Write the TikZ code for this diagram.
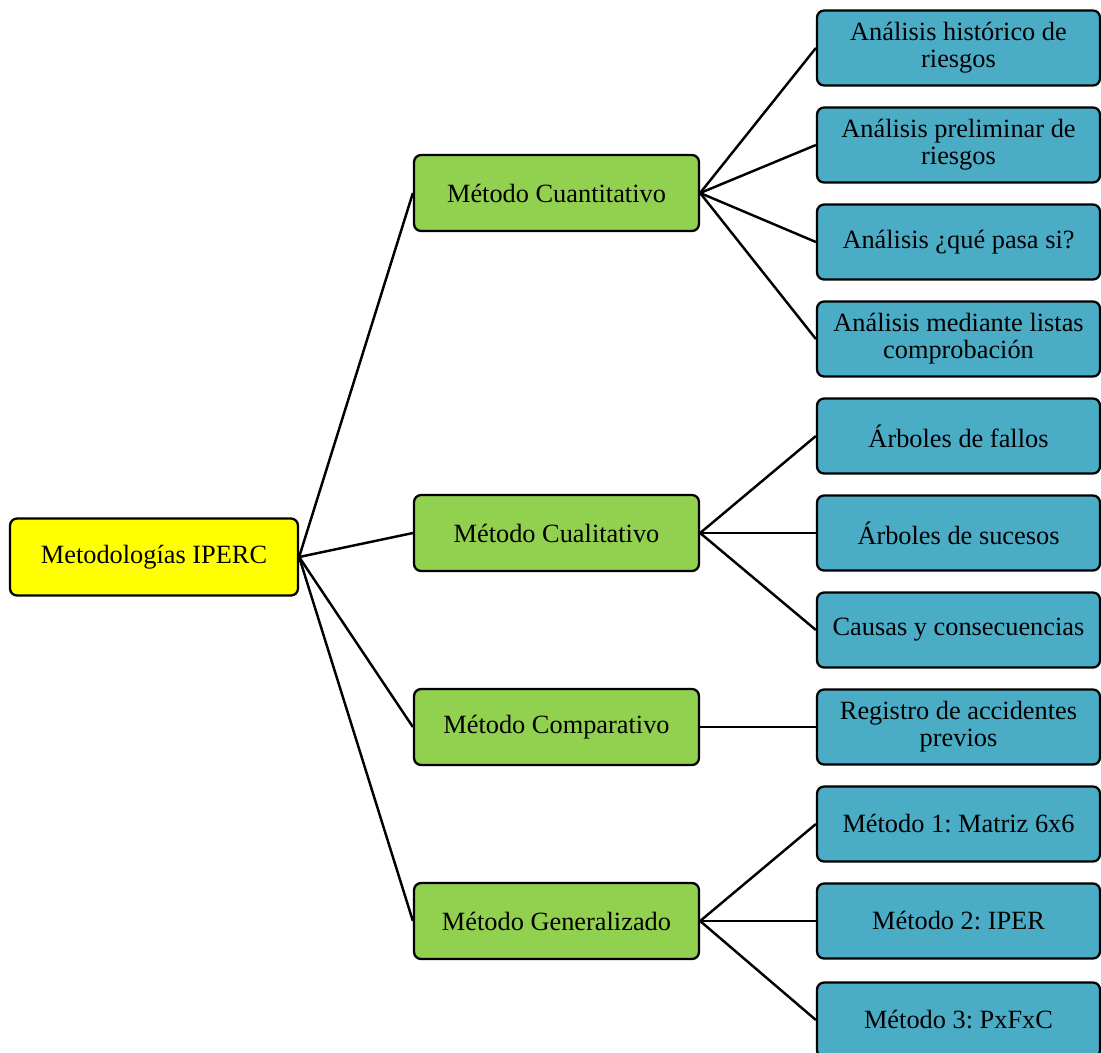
\documentclass[tikz,border=0pt]{standalone}
\usepackage{fontspec}
\setmainfont{Liberation Serif}
\frenchspacing
\definecolor{rootyellow}{HTML}{FFFF00}
\definecolor{methodgreen}{HTML}{92D050}
\definecolor{leafteal}{HTML}{4BACC6}
\begin{document}
\begin{tikzpicture}
[x=0.02cm,y=-0.02cm,
  rootdecorate/.style={shape=rectangle,rounded corners=4pt,draw,line width=1.3pt,fill=rootyellow,
    minimum width=5.76cm,minimum height=1.54cm,align=center,font=\fontsize{15}{15.5}\selectfont},%
  methoddecorate/.style={rootdecorate,fill=methodgreen,minimum width=5.7cm,minimum height=1.52cm},%
  leafdecorate/.style={rootdecorate,fill=leafteal,minimum width=5.66cm,minimum height=1.5cm},%
  linedecorate/.style={-,line width=1.4pt}]
\useasboundingbox (0,0) rectangle (1101,1052);
\fill[white] (0,0) rectangle (1101,1052);
%%% root
\node (iperc) at (154,557) [rootdecorate] {Metodologías IPERC};
%%% methods
\node (cuant) at (556.5,193) [methoddecorate] {Método Cuantitativo};
\node (cual) at (556.5,533) [methoddecorate] {Método Cualitativo};
\node (comp) at (556.5,727) [methoddecorate] {Método Comparativo};
\node (gen) at (556.5,921) [methoddecorate] {Método Generalizado};
%%% leaves
\node (l1) at (958.5,48) [leafdecorate] {Análisis histórico de\\riesgos};
\node (l2) at (958.5,145) [leafdecorate] {Análisis preliminar de\\riesgos};
\node (l3) at (958.5,242) [leafdecorate] {Análisis ¿qué pasa si?};
\node (l4) at (958.5,339) [leafdecorate] {Análisis mediante listas\\comprobación};
\node (l5) at (958.5,436) [leafdecorate] {Árboles de fallos};
\node (l6) at (958.5,533) [leafdecorate] {Árboles de sucesos};
\node (l7) at (958.5,630) [leafdecorate] {Causas y consecuencias};
\node (l8) at (958.5,727) [leafdecorate] {Registro de accidentes\\previos};
\node (l9) at (958.5,824) [leafdecorate] {Método 1: Matriz 6x6};
\node (l10) at (958.5,921) [leafdecorate] {Método 2: IPER};
\node (l11) at (958.5,1020) [leafdecorate] {Método 3: PxFxC};
% edges or lines
\path
(iperc.east) edge[linedecorate] (cuant.west)
(iperc.east) edge[linedecorate] (cual.west)
(iperc.east) edge[linedecorate] (comp.west)
(iperc.east) edge[linedecorate] (gen.west)
(cuant.east) edge[linedecorate] (l1.west)
(cuant.east) edge[linedecorate] (l2.west)
(cuant.east) edge[linedecorate] (l3.west)
(cuant.east) edge[linedecorate] (l4.west)
(cual.east) edge[linedecorate] (l5.west)
(cual.east) edge[linedecorate] (l6.west)
(cual.east) edge[linedecorate] (l7.west)
(comp.east) edge[linedecorate] (l8.west)
(gen.east) edge[linedecorate] (l9.west)
(gen.east) edge[linedecorate] (l10.west)
(gen.east) edge[linedecorate] (l11.west);
\end{tikzpicture}
\end{document}
